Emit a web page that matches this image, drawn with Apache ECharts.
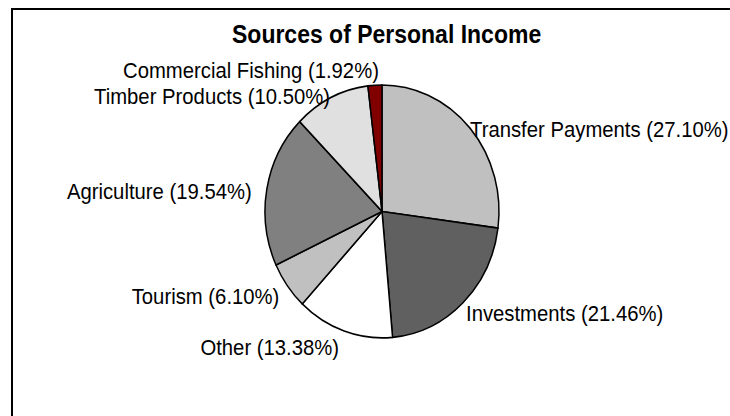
<!DOCTYPE html>
<html>
<head>
<meta charset="utf-8">
<script src="https://cdn.jsdelivr.net/npm/echarts@6/dist/echarts.min.js"></script>
<style>
html,body{margin:0;padding:0;background:#fff;overflow:hidden;}
#wrap{width:730px;height:416px;overflow:hidden;position:relative;}
#chart{width:730px;height:385px;transform:scaleY(1.081);transform-origin:0 0;}
</style>
</head>
<body>
<div id="wrap"><div id="chart"></div></div>
<script>
const titleText = 'Sources of Personal Income';
const categories = ['Transfer Payments', 'Investments', 'Other', 'Tourism', 'Agriculture', 'Timber Products', 'Commercial Fishing'];
const percents = [27.10, 21.46, 13.38, 6.10, 19.54, 10.50, 1.92];
const sliceColors = ['#c0c0c0', '#606060', '#ffffff', '#c0c0c0', '#808080', '#e0e0e0', '#800000'];
const labelNudges = [[0, 1], [3, 10], [-5, 15], [-8, 10], [-15, 2], [-1, -1], [4, -14]];

const chart = echarts.init(document.getElementById('chart'), null, {renderer: 'svg'});
const font = '"Liberation Sans", Arial, sans-serif';
chart.setOption({
  animation: false,
  backgroundColor: '#ffffff',
  title: {
    text: titleText,
    left: 232,
    top: 18.5,
    padding: 0,
    textStyle: {fontFamily: font, fontSize: 23, fontWeight: 'bold', color: '#000', lineHeight: 26}
  },
  graphic: [{
    type: 'polyline',
    shape: {points: [[12, 800], [12, 8.3], [1000, 8.3]]},
    style: {fill: 'none', stroke: '#000', lineWidth: 2},
    silent: true
  }],
  series: [{
    type: 'pie',
    center: [382, 195.6],
    radius: 117,
    startAngle: 90,
    clockwise: true,
    avoidLabelOverlap: false,
    silent: true,
    emphasis: {disabled: true, scale: false},
    itemStyle: {borderColor: '#000', borderWidth: 1.5},
    label: {
      show: true,
      position: 'outside',
      distanceToLabelLine: 0,
      fontFamily: font,
      fontSize: 20.3,
      color: '#000',
      formatter: p => p.name + ' (' + p.value.toFixed(2) + '%)'
    },
    labelLine: {show: false, length: 0, length2: 0},
    labelLayout: p => {
      const n = labelNudges[p.dataIndex];
      return {dx: n[0], dy: n[1]};
    },
    data: categories.map((c, i) => ({name: c, value: percents[i], itemStyle: {color: sliceColors[i]}}))
  }]
});
</script>
</body>
</html>
